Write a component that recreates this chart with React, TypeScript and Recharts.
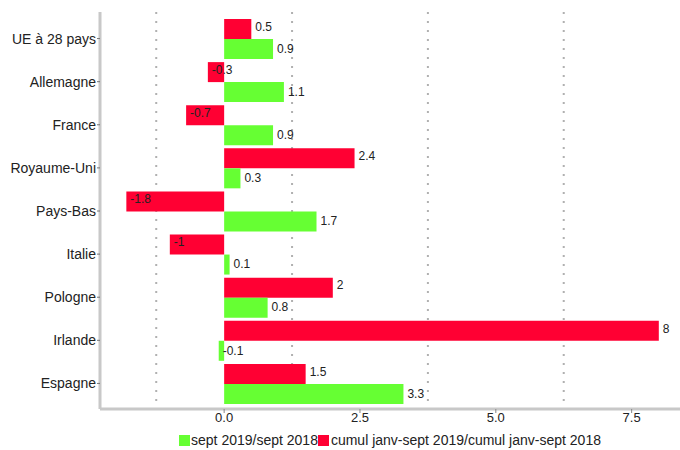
import React from 'react';
import { BarChart, Bar, XAxis, YAxis, CartesianGrid, Legend, LabelList } from 'recharts';

const categories = ['UE à 28 pays', 'Allemagne', 'France', 'Royaume-Uni', 'Pays-Bas', 'Italie', 'Pologne', 'Irlande', 'Espagne'];
const septValues = [0.9, 1.1, 0.9, 0.3, 1.7, 0.1, 0.8, -0.1, 3.3];
const cumulValues = [0.5, -0.3, -0.7, 2.4, -1.8, -1, 2, 8, 1.5];
const xTicks = [0, 2.5, 5, 7.5];
const gridValues = [-1.25, 1.25, 3.75, 6.25];
const seriesNames = { sept: 'sept 2019/sept 2018', cumul: 'cumul janv-sept 2019/cumul janv-sept 2018' };

const GREEN = '#66ff33';
const RED = '#ff0033';
const FONT = '"Liberation Sans", Arial, sans-serif';

const data = categories.map((name, i) => ({ name, sept: septValues[i], cumul: cumulValues[i] }));

const makeLabel = (shift: number) => (props: any) => {
  const { x, y, width, height, value } = props;
  const left = Math.min(x, x + width);
  const right = Math.max(x, x + width);
  const tx = value < 0 ? left + 4 : right + 4;
  return (
    <text x={tx} y={y + height / 2 + shift} dy="0.36em" fontSize={12} fill="#222" fontFamily={FONT} textAnchor="start">
      {String(value)}
    </text>
  );
};

const renderLegend = () => (
  <div style={{ display: 'flex', justifyContent: 'center', alignItems: 'center', height: 20, fontFamily: FONT, fontSize: 14, color: '#222', whiteSpace: 'nowrap' }}>
    <span style={{ display: 'inline-block', width: 11, height: 11, background: GREEN, marginRight: 1 }} />
    <span>{seriesNames.sept}</span>
    <span style={{ display: 'inline-block', width: 11, height: 11, background: RED, marginRight: 2 }} />
    <span>{seriesNames.cumul}</span>
  </div>
);

export default function App() {
  return (
    <div style={{ position: 'absolute', left: 0, top: 0 }}>
      <BarChart
        width={680}
        height={450}
        data={data}
        layout="vertical"
        margin={{ top: 12, right: 0, bottom: 0, left: 0 }}
        barCategoryGap={2}
        barGap={0}
      >
        <CartesianGrid horizontal={false} verticalValues={gridValues} stroke="#b0b0b0" strokeWidth={2} strokeDasharray="2 7" />
        <XAxis
          type="number"
          domain={[-2.285, 8.39]}
          allowDataOverflow
          ticks={xTicks}
          tickFormatter={(v: number) => v.toFixed(1)}
          height={21}
          tick={{ fontSize: 13, fill: '#222', fontFamily: FONT }}
          tickLine={{ stroke: '#888' }}
          tickSize={4}
          tickMargin={0}
          axisLine={{ stroke: '#c8c8c8', strokeWidth: 3 }}
        />
        <YAxis
          type="category"
          dataKey="name"
          width={100}
          padding={{ top: 5, bottom: 4 }}
          tick={{ fontSize: 14, fill: '#222', fontFamily: FONT }}
          tickLine={{ stroke: '#777' }}
          tickSize={3}
          tickMargin={1}
          axisLine={{ stroke: '#c8c8c8', strokeWidth: 3 }}
          interval={0}
        />
        <Legend verticalAlign="bottom" content={renderLegend} wrapperStyle={{ left: 100, width: 580 }} />
        <Bar dataKey="cumul" name={seriesNames.cumul} fill={RED} isAnimationActive={false}>
          <LabelList dataKey="cumul" content={makeLabel(-2.5)} />
        </Bar>
        <Bar dataKey="sept" name={seriesNames.sept} fill={GREEN} isAnimationActive={false}>
          <LabelList dataKey="sept" content={makeLabel(-0.5)} />
        </Bar>
      </BarChart>
    </div>
  );
}
